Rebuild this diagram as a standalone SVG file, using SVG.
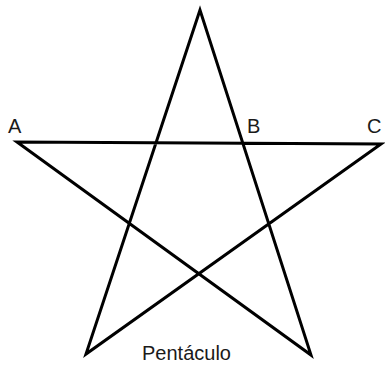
<svg xmlns="http://www.w3.org/2000/svg" width="385" height="365" viewBox="0 0 385 365">
<style>
.lbl{font-family:"Liberation Sans",Arial,sans-serif;font-size:20px;fill:#1a1a1a}
.edge{fill:none;stroke:#000;stroke-width:3;stroke-linejoin:miter;stroke-miterlimit:20}
</style>
<rect width="385" height="365" fill="#fff"/>
<g id="connectors">
<path class="edge" d="M200,10 L86,354 L381,144 L17,142 L311,355 Z"/>
</g>
<g id="A"><text class="lbl" x="8" y="133">A</text></g>
<g id="B"><text class="lbl" x="247" y="133">B</text></g>
<g id="C"><text class="lbl" x="367" y="133">C</text></g>
<g id="title"><text class="lbl" x="142" y="360">Pentáculo</text></g>
</svg>
